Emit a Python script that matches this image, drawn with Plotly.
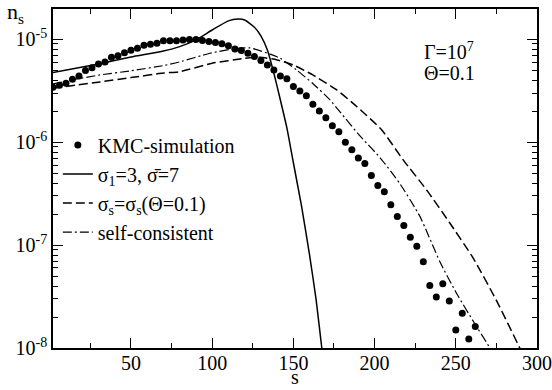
import plotly.graph_objects as go

# ---------------- data ----------------
kmc_s = [2, 6, 10, 14, 18, 22, 26, 30, 34, 38, 42, 46, 50, 54, 58, 62, 66, 70, 74, 78,
         82, 86, 90, 94, 98, 102, 106, 110, 114, 118, 122, 126, 130, 134, 138, 142, 146,
         150, 154, 158, 162, 166, 170, 174, 178, 182, 186, 190, 194, 198, 202, 206, 210,
         214, 218, 222, 226, 230, 234, 238, 242, 246, 250, 254, 258, 262]
kmc_n = [3.42e-6, 3.58e-6, 3.74e-6, 4.09e-6, 4.40e-6, 4.96e-6, 5.30e-6, 5.75e-6, 6.02e-6,
         6.69e-6, 6.93e-6, 7.41e-6, 7.82e-6, 8.18e-6, 8.75e-6, 8.94e-6, 9.14e-6, 9.69e-6,
         9.69e-6, 9.69e-6, 9.84e-6, 9.96e-6, 9.96e-6, 9.73e-6, 9.52e-6, 9.31e-6, 9.06e-6,
         8.67e-6, 8.05e-6, 7.79e-6, 7.31e-6, 6.81e-6, 6.22e-6, 5.63e-6, 5.04e-6, 4.40e-6,
         4.14e-6, 3.47e-6, 3.15e-6, 2.82e-6, 2.34e-6, 2.01e-6, 1.73e-6, 1.44e-6, 1.26e-6,
         1.00e-6, 8.42e-7, 7.00e-7, 6.20e-7, 4.74e-7, 3.79e-7, 3.29e-7, 2.46e-7, 1.90e-7,
         1.55e-7, 1.19e-7, 9.77e-8, 6.89e-8, 4.05e-8, 3.13e-8, 4.21e-8, 2.86e-8, 1.50e-8,
         2.17e-8, 1.22e-8, 1.62e-8]

solid_s = [2, 30, 50, 70, 80, 90, 100, 110, 116, 120, 126, 130, 134, 138, 142, 146,
           150, 155, 160, 164, 167.5, 170]
solid_n = [4.74e-6, 5.75e-6, 6.73e-6, 7.69e-6, 8.48e-6, 9.85e-6, 1.23e-5, 1.51e-5,
           1.57e-5, 1.54e-5, 1.31e-5, 1.08e-5, 7.87e-6, 4.68e-6, 2.57e-6, 1.38e-6,
           6.31e-7, 2.40e-7, 7.94e-8, 2.95e-8, 1.0e-8, 5.0e-9]

dashed_s = [2, 31, 50, 70, 80, 100, 120, 129.5, 140, 150, 162, 176.7, 189, 204.3,
            217.6, 232, 246.3, 260.7, 275, 289.4, 295]
dashed_n = [3.34e-6, 3.85e-6, 4.24e-6, 4.69e-6, 4.84e-6, 5.85e-6, 6.52e-6, 6.68e-6,
            6.30e-6, 5.62e-6, 4.50e-6, 3.22e-6, 2.22e-6, 1.32e-6, 6.73e-7, 3.44e-7,
            1.64e-7, 7.48e-8, 2.9e-8, 1.0e-8, 6.5e-9]

dashdot_s = [2, 13.7, 31, 50, 70, 80, 98.7, 115.2, 123.3, 133.6, 141.8, 152, 162.3,
             172.5, 178.7, 191, 203.3, 215.6, 227.9, 240.2, 250.6, 261.7, 271, 275]
dashdot_n = [3.68e-6, 4.03e-6, 4.50e-6, 4.94e-6, 5.55e-6, 6.03e-6, 7.31e-6, 8.18e-6,
             8.24e-6, 7.36e-6, 6.55e-6, 5.03e-6, 3.68e-6, 2.58e-6, 1.97e-6, 1.15e-6,
             7.1e-7, 3.95e-7, 1.90e-7, 6.89e-8, 3.37e-8, 1.72e-8, 1.0e-8, 7.5e-9]

x_ticks = [50, 100, 150, 200, 250, 300]
x_minor = [25, 75, 125, 175, 225, 275]
y_ticks = [1e-8, 1e-7, 1e-6, 1e-5]
y_ticktext = ["10<sup>-8</sup>", "10<sup>-7</sup>", "10<sup>-6</sup>", "10<sup>-5</sup>"]
y_minor = [k * 10.0 ** e for e in range(-8, -4) for k in range(2, 10)]

names = ["KMC-simulation",
         "σ<sub>1</sub>=3, σ\u0304=7",
         "σ<sub>s</sub>=σ<sub>s</sub>(Θ=0.1)",
         "self-consistent"]

FONT = "Liberation Serif, Times New Roman, Times, serif"

# ---------------- figure ----------------
fig = go.Figure()
fig.add_trace(go.Scatter(x=kmc_s, y=kmc_n, mode="markers", name=names[0],
                         marker=dict(color="black", size=7), cliponaxis=True))
fig.add_trace(go.Scatter(x=solid_s, y=solid_n, mode="lines", name=names[1],
                         line=dict(color="black", width=1.5, shape="spline", smoothing=0.5)))
fig.add_trace(go.Scatter(x=dashed_s, y=dashed_n, mode="lines", name=names[2],
                         line=dict(color="black", width=1.5, dash="9px,4px",
                                   shape="spline", smoothing=0.5)))
fig.add_trace(go.Scatter(x=dashdot_s, y=dashdot_n, mode="lines", name=names[3],
                         line=dict(color="black", width=1.2, dash="9px,3px,2px,3px",
                                   shape="spline", smoothing=0.5)))

axis_common = dict(showline=True, linecolor="black", linewidth=1.5, mirror="ticks",
                   ticks="inside", ticklen=10, tickwidth=1.2, tickcolor="black",
                   showgrid=False, zeroline=False, automargin=False,
                   tickfont=dict(family=FONT, size=20, color="black"))

fig.update_xaxes(range=[2, 300], tickvals=x_ticks, ticktext=[str(v) for v in x_ticks],
                 ticklabelstandoff=-4,
                 minor=dict(tickvals=x_minor, ticks="inside", ticklen=5,
                            tickwidth=1.2, tickcolor="black", showgrid=False),
                 **axis_common)
fig.update_yaxes(type="log", range=[-8, -4.706], tickvals=y_ticks, ticktext=y_ticktext,
                 minor=dict(tickvals=y_minor, ticks="inside", ticklen=5,
                            tickwidth=1.2, tickcolor="black", showgrid=False),
                 **axis_common)

fig.update_layout(
    width=552, height=390,
    margin=dict(l=53, r=15, t=9, b=42, pad=0, autoexpand=False),
    paper_bgcolor="white", plot_bgcolor="white",
    font=dict(family=FONT, size=20, color="black"),
    showlegend=True,
    legend=dict(x=0.01, y=0.656, xanchor="left", yanchor="top",
                bgcolor="rgba(0,0,0,0)", borderwidth=0,
                font=dict(family=FONT, size=20, color="black"),
                itemwidth=30, tracegroupgap=0),
    annotations=[
        dict(text="n<sub>s</sub>", xref="paper", yref="paper", x=-0.1, y=1.036,
             xanchor="left", yanchor="top", showarrow=False,
             font=dict(family=FONT, size=22, color="black")),
        dict(text="s", xref="paper", yref="paper", x=0.5, y=-0.086,
             xanchor="center", yanchor="middle", showarrow=False,
             font=dict(family=FONT, size=20, color="black")),
        dict(text="Γ=10<sup>7</sup>", xref="paper", yref="paper", x=0.763, y=0.876,
             xanchor="left", yanchor="middle", showarrow=False,
             font=dict(family=FONT, size=20, color="black")),
        dict(text="Θ=0.1", xref="paper", yref="paper", x=0.763, y=0.811,
             xanchor="left", yanchor="middle", showarrow=False,
             font=dict(family=FONT, size=20, color="black")),
    ],
)

fig.write_html("out.html", config={"displayModeBar": False},
               post_script="document.body.style.margin='0';document.body.style.overflow='hidden';")
